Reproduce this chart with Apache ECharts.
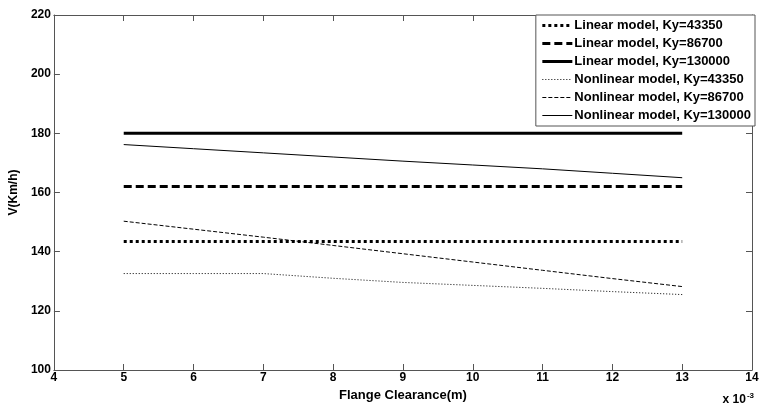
<!DOCTYPE html>
<html>
<head>
<meta charset="utf-8">
<script src="https://cdn.jsdelivr.net/npm/echarts@6/dist/echarts.min.js"></script>
<style>
  html, body { margin: 0; padding: 0; background: #fff; }
  #chart { width: 762px; height: 408px; }
</style>
</head>
<body>
<div id="chart"></div>
<script>
// flange clearance (x 10^-3 m)
var clearance = [5, 6, 7, 8, 9, 10, 11, 12, 13];
var seriesNames = [
  "Linear model, Ky=43350",
  "Linear model, Ky=86700",
  "Linear model, Ky=130000",
  "Nonlinear model, Ky=43350",
  "Nonlinear model, Ky=86700",
  "Nonlinear model, Ky=130000"
];
var linear43350 = [143.4, 143.4, 143.4, 143.4, 143.4, 143.4, 143.4, 143.4, 143.4];
var linear86700 = [162, 162, 162, 162, 162, 162, 162, 162, 162];
var linear130000 = [180, 180, 180, 180, 180, 180, 180, 180, 180];
var nonlinear43350 = [132.6, 132.6, 132.6, 131.0, 129.6, 128.6, 127.6, 126.5, 125.5];
var nonlinear86700 = [150.3, 147.6, 144.9, 142.1, 139.3, 136.5, 133.7, 130.9, 128.2];
var nonlinear130000 = [176.2, 174.8, 173.4, 172.0, 170.6, 169.3, 168.0, 166.5, 165.0];
var xTicks = [4, 14, 1];     // min, max, interval
var yTicks = [100, 220, 20];

var font = "Liberation Sans";
var axisColor = "#555";

function pairs(ys) {
  return clearance.map(function (x, i) { return [x, ys[i]]; });
}

var lineStyles = [
  { width: 3, type: [3, 3] },
  { width: 3, type: [8, 4] },
  { width: 3, type: "solid" },
  { width: 1, type: [1, 2] },
  { width: 1, type: [4, 2] },
  { width: 1, type: "solid" }
];
var allData = [linear43350, linear86700, linear130000, nonlinear43350, nonlinear86700, nonlinear130000];

var series = [];
var legendData = [];
for (var i = 0; i < allData.length; i++) {
  var ls = { color: "#000", width: lineStyles[i].width, type: lineStyles[i].type, cap: "butt" };
  series.push({
    name: seriesNames[i],
    type: "line",
    symbol: "none",
    silent: true,
    data: pairs(allData[i]),
    lineStyle: ls,
    itemStyle: { color: "#000" }
  });
  legendData.push({ name: seriesNames[i], lineStyle: ls, itemStyle: { opacity: 0 } });
}

var chart = echarts.init(document.getElementById("chart"));
chart.setOption({
  animation: false,
  backgroundColor: "#fff",
  grid: { left: 52, right: 10, top: 15, bottom: 38 },
  legend: {
    orient: "vertical",
    right: 7,
    top: 15,
    data: legendData,
    itemWidth: 30,
    itemHeight: 14,
    itemGap: 5,
    padding: [4, 4, 4, 5],
    backgroundColor: "#fff",
    borderColor: axisColor,
    borderWidth: 1,
    borderRadius: 0,
    itemStyle: { opacity: 0 },
    textStyle: { fontFamily: font, fontWeight: "bold", fontSize: 13, color: "#000", padding: [0, 0, 0, -3] }
  },
  xAxis: [
    {
      type: "value",
      min: xTicks[0], max: xTicks[1], interval: xTicks[2],
      name: "Flange Clearance(m)",
      nameLocation: "middle",
      nameGap: 17,
      nameTextStyle: { fontFamily: font, fontWeight: "bold", fontSize: 13, color: "#000" },
      axisLine: { lineStyle: { color: axisColor } },
      axisTick: { inside: true, length: 6, lineStyle: { color: axisColor } },
      axisLabel: { fontFamily: font, fontWeight: "bold", fontSize: 12, color: "#000", margin: 2 },
      splitLine: { show: false }
    },
    {
      type: "value",
      position: "top",
      min: xTicks[0], max: xTicks[1], interval: xTicks[2],
      axisLine: { lineStyle: { color: axisColor } },
      axisTick: { inside: true, length: 6, lineStyle: { color: axisColor } },
      axisLabel: { show: false },
      splitLine: { show: false }
    }
  ],
  yAxis: [
    {
      type: "value",
      min: yTicks[0], max: yTicks[1], interval: yTicks[2],
      name: "V(Km/h)",
      nameLocation: "middle",
      nameGap: 33,
      nameRotate: 90,
      nameTextStyle: { fontFamily: font, fontWeight: "bold", fontSize: 12, color: "#000" },
      axisLine: { show: true, lineStyle: { color: axisColor } },
      axisTick: { show: true, inside: true, length: 6, lineStyle: { color: axisColor } },
      axisLabel: { fontFamily: font, fontWeight: "bold", fontSize: 12, color: "#000", margin: 3 },
      splitLine: { show: false }
    },
    {
      type: "value",
      position: "right",
      min: yTicks[0], max: yTicks[1], interval: yTicks[2],
      axisLine: { show: true, lineStyle: { color: axisColor } },
      axisTick: { show: true, inside: true, length: 6, lineStyle: { color: axisColor } },
      axisLabel: { show: false },
      splitLine: { show: false }
    }
  ],
  graphic: [
    {
      type: "text",
      right: 8,
      bottom: 2,
      style: {
        text: "{b|x 10}{s|-3}",
        rich: {
          b: { fontFamily: font, fontWeight: "bold", fontSize: 12, fill: "#000" },
          s: { fontFamily: font, fontWeight: "bold", fontSize: 8, fill: "#000", verticalAlign: "top", padding: [0, 0, 8, 1] }
        }
      }
    }
  ],
  series: series
});
</script>
</body>
</html>
